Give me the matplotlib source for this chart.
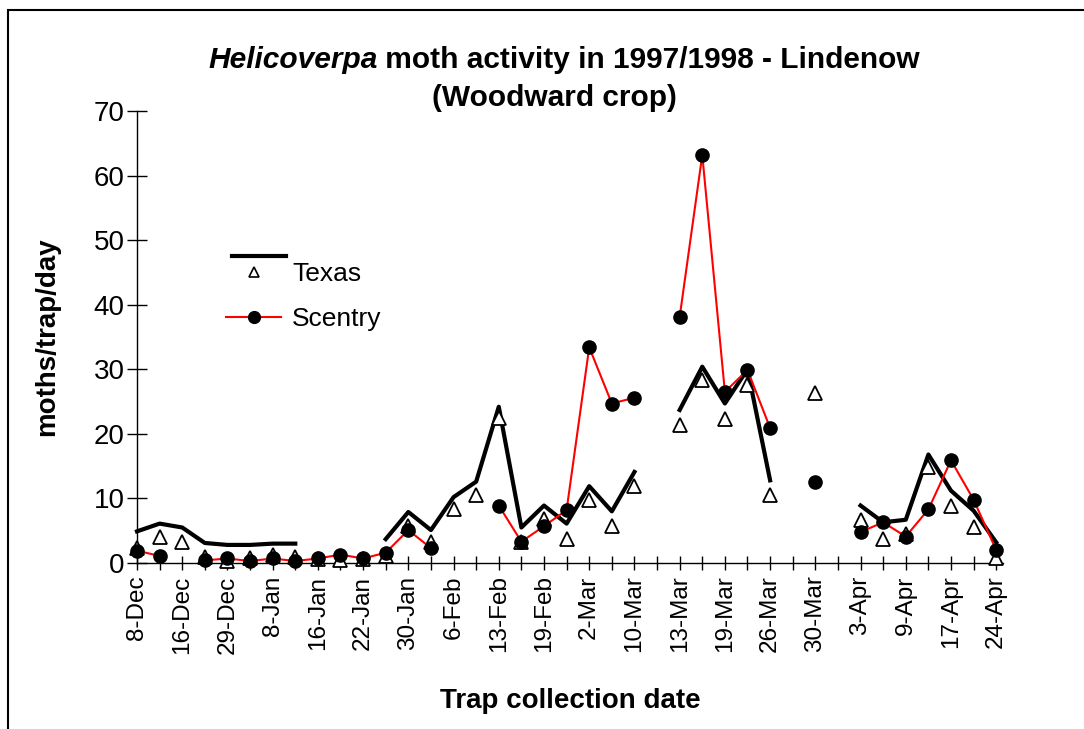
import numpy as np
import matplotlib.pyplot as plt
from matplotlib.lines import Line2D

plt.rcParams['font.family'] = ['Liberation Sans', 'DejaVu Sans']

nan = np.nan

# trap collection dates (only every second one is labelled on the axis)
dates = ["8-Dec", "", "16-Dec", "", "29-Dec", "", "8-Jan", "", "16-Jan", "",
         "22-Jan", "", "30-Jan", "", "6-Feb", "", "13-Feb", "", "19-Feb", "",
         "2-Mar", "", "10-Mar", "", "13-Mar", "", "19-Mar", "", "26-Mar", "",
         "30-Mar", "", "3-Apr", "", "9-Apr", "", "17-Apr", "", "24-Apr"]

# Texas trap - triangle markers
texas_pts = [2.3, 4.0, 3.3, 1.0, 0.3, 0.8, 1.2, 1.0, 0.6, 0.5,
             0.6, 1.1, 5.8, 3.2, 8.4, 10.5, 22.4, 3.2, 6.8, 3.7,
             9.8, 5.8, 12.0, nan, 21.4, 28.4, 22.3, 27.5, 10.5, nan,
             26.3, nan, 6.7, 3.7, 4.5, 14.9, 8.9, 5.5, 0.8]

# Texas trap - thick black line
texas_line = [4.9, 6.1, 5.5, 3.1, 2.8, 2.8, 3.0, 3.0, nan, nan,
              nan, 3.7, 7.9, 5.1, 10.2, 12.6, 24.2, 5.5, 8.9, 6.1,
              11.9, 8.0, 14.1, nan, 23.7, 30.4, 24.7, 30.0, 12.8, nan,
              nan, nan, 8.9, 6.3, 6.7, 16.8, 11.2, 8.1, 3.2]

# Scentry trap
scentry = [1.9, 1.1, nan, 0.4, 0.7, 0.3, 0.7, 0.3, 0.7, 1.3,
           0.7, 1.6, 5.1, 2.3, nan, nan, 8.9, 3.3, 5.7, 8.2,
           33.4, 24.7, 25.6, nan, 38.1, 63.2, 26.5, 29.9, 20.9, nan,
           12.5, nan, 4.8, 6.3, 4.1, 8.3, 15.9, 9.8, 2.0]

W, H = 1084, 729


def fx(px):
    return px / W


def fy(py):
    return 1 - py / H


fig = plt.figure(figsize=(W / 100, H / 100), dpi=100)
ax = fig.add_axes([fx(137), fy(563), fx(1003) - fx(137), fy(111) - fy(563)])

x = np.arange(len(dates))
ax.plot(x, texas_line, color="black", lw=3, zorder=2, clip_on=False)
ax.plot(x, texas_pts, ls="none", marker="^", ms=10, mfc="white", mec="black",
        mew=1.3, zorder=3, clip_on=False)
ax.plot(x, scentry, color="red", lw=1.5, marker="o", ms=9.5, mfc="black",
        mec="black", zorder=4, clip_on=False)

ax.set_xlim(0, 38.3)
ax.set_ylim(0, 70)
ax.set_xticks(x)
ax.set_xticklabels(dates, rotation=90, fontsize=17.5)
ax.set_yticks(range(0, 71, 10))
ax.tick_params(axis="y", direction="inout", length=15, width=1, labelsize=20, pad=1.5)
ax.tick_params(axis="x", direction="inout", length=10, width=1, pad=4)
for s in ["top", "right"]:
    ax.spines[s].set_visible(False)
for s in ["left", "bottom"]:
    ax.spines[s].set_linewidth(1)

ax.set_ylabel("moths/trap/day", fontsize=20, fontweight="bold", labelpad=24)
ax.set_xlabel("Trap collection date", fontsize=20, fontweight="bold", labelpad=25)

# legend
handles = [
    Line2D([], [], ls="none", marker="^", ms=7, mfc="white", mec="black", mew=1.2),
    Line2D([], [], color="red", lw=1.5, marker="o", ms=8.5, mfc="black", mec="black"),
]
ax.legend(handles, ["Texas", "Scentry"], loc="upper left", frameon=False,
          bbox_to_anchor=(fx(226), fy(262)), bbox_transform=fig.transFigure,
          fontsize=19, handlelength=2.1, handletextpad=0.4, labelspacing=0.8,
          borderpad=0, borderaxespad=0)
fig.add_artist(Line2D([fx(232), fx(286)], [fy(256), fy(256)], color="black",
                      lw=3, transform=fig.transFigure))

# title: italic genus name followed by the rest
r = fig.canvas.get_renderer()
t1 = fig.text(0, fy(68), "Helicoverpa", fontsize=21.5, fontweight="bold",
              fontstyle="italic", va="baseline")
t2 = fig.text(0, fy(68), " moth activity in 1997/1998 - Lindenow", fontsize=21.5,
              fontweight="bold", va="baseline")
w1 = t1.get_window_extent(r).width
w2 = t2.get_window_extent(r).width
x0 = 564 - (w1 + w2) / 2
t1.set_x(fx(x0))
t2.set_x(fx(x0 + w1))
fig.text(fx(554), fy(106), "(Woodward crop)", fontsize=21.5, fontweight="bold",
         ha="center", va="baseline")

# chart area border
fig.add_artist(plt.Rectangle((fx(8), -0.05), 1.1, fy(10) + 0.05, fill=False,
                             lw=1.5, ec="black", transform=fig.transFigure))

fig.savefig("out.png", dpi=100)
